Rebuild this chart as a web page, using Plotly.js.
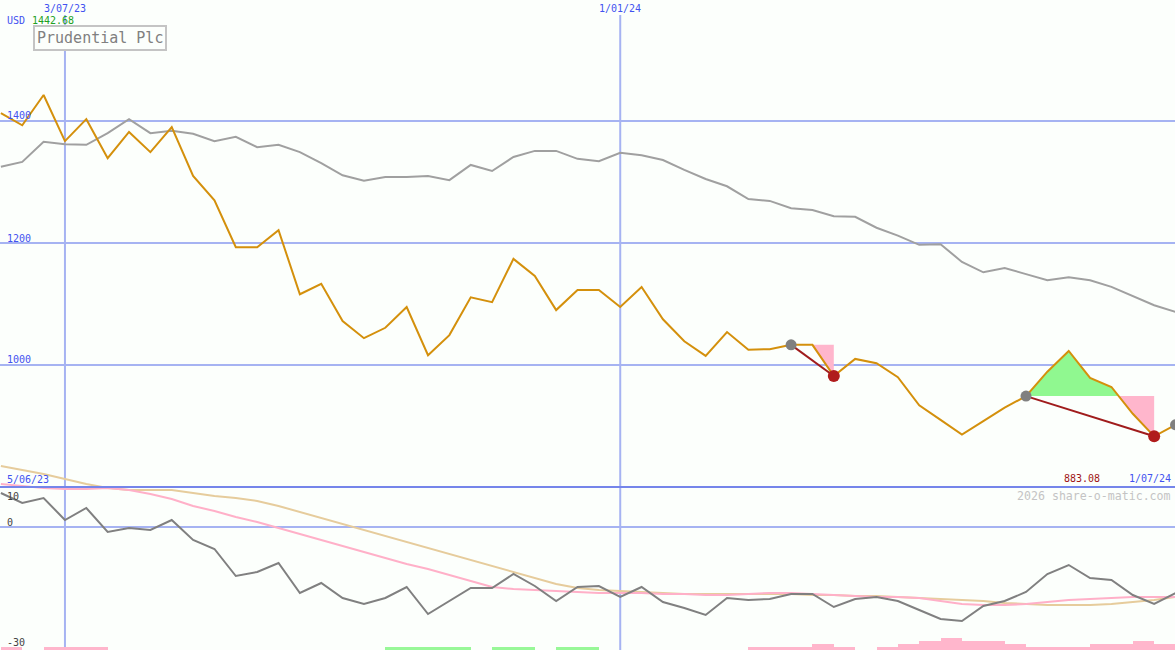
<!DOCTYPE html>
<html>
<head>
<meta charset="utf-8">
<script src="https://cdn.plot.ly/plotly-3.0.1.min.js"></script>
<style>
html,body{margin:0;padding:0;background:#fcfffc;}
#chart{width:1175px;height:650px;}
</style>
</head>
<body>
<div id="chart"></div>
<script>
// ---- data (weekly) ----
const dates = ['2023-06-12','2023-06-19','2023-06-26','2023-07-03','2023-07-10','2023-07-17','2023-07-24','2023-07-31',
 '2023-08-07','2023-08-14','2023-08-21','2023-08-28','2023-09-04','2023-09-11','2023-09-18','2023-09-25',
 '2023-10-02','2023-10-09','2023-10-16','2023-10-23','2023-10-30','2023-11-06','2023-11-13','2023-11-20',
 '2023-11-27','2023-12-04','2023-12-11','2023-12-18','2023-12-25','2024-01-01','2024-01-08','2024-01-15',
 '2024-01-22','2024-01-29','2024-02-05','2024-02-12','2024-02-19','2024-02-26','2024-03-04','2024-03-11',
 '2024-03-18','2024-03-25','2024-04-01','2024-04-08','2024-04-15','2024-04-22','2024-04-29','2024-05-06',
 '2024-05-13','2024-05-20','2024-05-27','2024-06-03','2024-06-10','2024-06-17','2024-06-24','2024-07-01'];

const price = [1413,1393,1442.68,1367,1403,1339,1382,1349,1390,1310,1270,1193,1193,1221,1116,1133,
 1072,1044,1061,1095,1016,1049,1111,1103,1174,1146,1090,1123,1123,1095,1128,1075,
 1039,1015,1054,1025,1026,1033,1033,982,1010,1003,980,934,910,886,908,930,
 949,989,1023,979,964,920,883.08,902];

const relative = [1325,1333,1366,1362,1361,1380,1403,1380,1384,1379,1367,1374,1357,1361,1349,1331,
 1311,1302,1308,1308,1310,1303,1328,1318,1341,1351,1351,1338,1334,1348,1344,1336,
 1320,1305,1293,1272,1269,1257,1254,1244,1243,1225,1212,1197,1198,1169,1152,1159,
 1149,1139,1144,1139,1128,1113,1098,1087];

const momentum = [8.5,6,7.25,1.75,4.75,-1.25,-0.25,-0.75,1.75,-3.25,-5.5,-12.25,-11.25,-9,-16.5,-14,
 -17.75,-19.25,-17.75,-15,-21.75,-18.5,-15.25,-15.25,-11.75,-14.75,-18.5,-15,-14.75,-17.5,-15,-18.75,
 -20.25,-22,-17.75,-18.25,-18,-16.75,-16.75,-20,-18,-17.5,-18.5,-20.75,-23,-23.5,-19.75,-18.5,
 -16.25,-11.75,-9.5,-12.75,-13.25,-17,-19.25,-16.5];

const avgFast = [10.75,10.25,9.75,9.5,9.5,9.75,9.25,8.25,7,5.25,4,2.5,1.25,-0.25,-1.75,-3.25,
 -4.75,-6.25,-7.75,-9.25,-10.5,-12,-13.5,-15,-15.5,-15.75,-16,-16.25,-16.5,-16.5,-16.5,-16.75,
 -16.75,-17,-17,-16.75,-16.5,-16.5,-16.75,-17,-17.25,-17.5,-17.5,-17.75,-18.5,-19.25,-19.5,-19.5,
 -19.25,-18.75,-18.25,-18,-17.75,-17.5,-17.5,-17.5];

const avgSlow = [15.25,14.25,13.25,12,10.75,9.75,9.25,9.25,9.25,8.5,7.75,7.25,6.5,5.25,3.75,2.25,
 0.75,-0.75,-2.25,-3.75,-5.25,-6.75,-8.25,-9.75,-11.25,-12.75,-14.25,-15.25,-15.75,-16,-16.25,-16.5,
 -16.75,-16.75,-16.75,-16.75,-16.75,-16.75,-17,-17,-17.25,-17.25,-17.5,-17.75,-18,-18.25,-18.5,-19,
 -19.25,-19.5,-19.5,-19.5,-19.25,-18.75,-18.25,-17.5];

// weekly strength bars (one per week interval)
const pinkBars  = [1,0,1,1,1,0,0,0,0,0,0,0,0,0,0,0,0,0,0,0,0,0,0,0,0,0,0,0,0,0,0,0,0,0,0,
 1,1,1,2,1,0,1,2,3,4,3,3,2,1,1,1,2,2,3,2];
const greenBars = [0,0,0,0,0,0,0,0,0,0,0,0,0,0,0,0,0,0,1,1,1,1,0,1,1,0,1,1,0,0,0,0,0,0,0,
 0,0,0,0,0,0,0,0,0,0,0,0,0,0,0,0,0,0,0,0];

// signals (indices into weekly data)
const signalFrom = [37, 48];
const signalTo   = [39, 54];
const openSignal = [55];

// ---- helpers ----
const H = 650, W = 1175;
const px = v => v / W;
const py = v => 1 - v / H;
const ms = d => Date.parse(d + 'T00:00:00Z');
const WEEK = 7 * 24 * 3600 * 1000;

function clippedFill(i0, i1, base, above) {
  const xs = [], ys = [];
  for (let i = i0; i <= i1; i++) {
    const v = price[i];
    if (i > i0) {
      const p = price[i - 1];
      if ((p - base) * (v - base) < 0) {
        const t = (base - p) / (v - p);
        xs.push(ms(dates[i - 1]) + t * (ms(dates[i]) - ms(dates[i - 1])));
        ys.push(base);
      }
    }
    xs.push(ms(dates[i]));
    ys.push(above ? Math.max(v, base) : Math.min(v, base));
  }
  xs.push(ms(dates[i1])); ys.push(base);
  xs.push(ms(dates[i0])); ys.push(base);
  return {xs, ys};
}

const traces = [];
const barX = dates.slice(0, 55);

traces.push({type:'bar', x:barX, y:pinkBars, yaxis:'y3', offset:0, width:WEEK,
  marker:{color:'#ffb6cc', line:{width:0}}, hoverinfo:'skip'});
traces.push({type:'bar', x:barX, y:greenBars, yaxis:'y3', offset:0, width:WEEK,
  marker:{color:'#98f898', line:{width:0}}, hoverinfo:'skip'});

traces.push({type:'scatter', mode:'lines', x:dates, y:avgSlow, yaxis:'y2',
  line:{color:'#e6cc9c', width:2}, hoverinfo:'skip'});
traces.push({type:'scatter', mode:'lines', x:dates, y:avgFast, yaxis:'y2',
  line:{color:'#ffb0c8', width:2}, hoverinfo:'skip'});
traces.push({type:'scatter', mode:'lines', x:dates, y:momentum, yaxis:'y2',
  line:{color:'#808080', width:2}, hoverinfo:'skip'});

traces.push({type:'scatter', mode:'lines', x:dates, y:relative, yaxis:'y',
  line:{color:'#a0a0a0', width:2}, hoverinfo:'skip'});

signalFrom.forEach((f, k) => {
  const t = signalTo[k];
  const base = price[f];
  const g = clippedFill(f, t, base, true);
  const p = clippedFill(f, t, base, false);
  traces.push({type:'scatter', mode:'lines', x:g.xs, y:g.ys, fill:'toself', yaxis:'y',
    fillcolor:'#90f890', line:{width:0, color:'rgba(0,0,0,0)'}, hoverinfo:'skip'});
  traces.push({type:'scatter', mode:'lines', x:p.xs, y:p.ys, fill:'toself', yaxis:'y',
    fillcolor:'#ffb6cc', line:{width:0, color:'rgba(0,0,0,0)'}, hoverinfo:'skip'});
});

traces.push({type:'scatter', mode:'lines', x:dates, y:price, yaxis:'y',
  line:{color:'#d4900c', width:2}, hoverinfo:'skip'});

signalFrom.forEach((f, k) => {
  const t = signalTo[k];
  traces.push({type:'scatter', mode:'lines', x:[dates[f], dates[t]], y:[price[f], price[t]], yaxis:'y',
    line:{color:'#a01c1c', width:2}, hoverinfo:'skip'});
});

const greyIdx = signalFrom.concat(openSignal);
traces.push({type:'scatter', mode:'markers', x:greyIdx.map(i => dates[i]), y:greyIdx.map(i => price[i]), yaxis:'y',
  marker:{color:'#808080', size:11}, hoverinfo:'skip'});
traces.push({type:'scatter', mode:'markers', x:signalTo.map(i => dates[i]), y:signalTo.map(i => price[i]), yaxis:'y',
  marker:{color:'#b01c1c', size:12}, hoverinfo:'skip'});

// ---- layout ----
const gridColor = '#a6b3f2';
const shapes = [];
[1400, 1200, 1000].forEach(v => shapes.push({type:'line', xref:'paper', yref:'y', x0:0, x1:1, y0:v, y1:v,
  line:{color:gridColor, width:2}, layer:'below'}));
shapes.push({type:'line', xref:'paper', yref:'y2', x0:0, x1:1, y0:0, y1:0, line:{color:gridColor, width:2}, layer:'below'});
['2023-07-03', '2024-01-01'].forEach(d => shapes.push({type:'line', xref:'x', yref:'paper', x0:d, x1:d,
  y0:0, y1:py(15), line:{color:gridColor, width:2}, layer:'below'}));
shapes.push({type:'line', xref:'paper', yref:'paper', x0:0, x1:1, y0:py(487), y1:py(487),
  line:{color:'#7585ea', width:2}, layer:'above'});

const mono = 'DejaVu Sans Mono, Liberation Mono, monospace';
const blue = '#4252f0';
function lab(text, x, y, color, size, xanchor) {
  return {text, xref:'paper', yref:'paper', x:px(x), y:py(y), xanchor:xanchor || 'left', yanchor:'middle',
    showarrow:false, font:{family:mono, size:size || 10, color}};
}
const maxPrice = Math.max(...price);
const lastSell = price[signalTo[signalTo.length - 1]];
const annotations = [
  {text:'3/07/23', xref:'x', yref:'paper', x:'2023-07-03', y:py(8), xanchor:'center', yanchor:'middle',
   showarrow:false, font:{family:mono, size:10, color:blue}},
  {text:'1/01/24', xref:'x', yref:'paper', x:'2024-01-01', y:py(8), xanchor:'center', yanchor:'middle',
   showarrow:false, font:{family:mono, size:10, color:blue}},
  lab('USD', 5, 20, blue),
  lab(maxPrice.toFixed(2), 30, 20, '#22a022'),
  {text:'Prudential Plc', xref:'paper', yref:'paper', x:px(33), y:py(25), xanchor:'left', yanchor:'top',
   showarrow:false, font:{family:mono, size:15, color:'#808080'}, bgcolor:'#fcfffc',
   bordercolor:'#c4c4c4', borderwidth:2, borderpad:2},
  lab('1400', 5, 115.5, blue),
  lab('1200', 5, 238, blue),
  lab('1000', 5, 359, blue),
  lab('5/06/23', 5, 479, blue),
  lab(lastSell.toFixed(2), 1102, 478.5, '#a01414', 10, 'right'),
  lab('1/07/24', 1173, 478.5, blue, 10, 'right'),
  lab('2026 share-o-matic.com', 1173, 496, '#c4c4c4', 11.6, 'right'),
  lab('10', 5, 496, '#444444'),
  lab('0', 5, 522, '#444444'),
  lab('-30', 5, 642, '#444444')
];

// One full-height plot area; the price scale and the indicator scale are overlaid axes.
// Price: 1400 at pixel 121, 0.61 px per unit. Indicator: 0 at pixel 527, 4 px per unit.
const layout = {
  width:W, height:H, margin:{l:0, r:0, t:0, b:0, pad:0},
  paper_bgcolor:'#fcfffc', plot_bgcolor:'#fcfffc', showlegend:false,
  bargap:0, barmode:'overlay',
  xaxis:{type:'date', range:['2023-06-11 17:00', '2024-06-30 20:00'], visible:false, fixedrange:true},
  yaxis:{domain:[0, 1], range:[1598.36 - 650 / 0.61, 1598.36], visible:false, fixedrange:true},
  yaxis2:{overlaying:'y', range:[-30.75, 131.75], visible:false, fixedrange:true},
  yaxis3:{overlaying:'y', range:[0, 650/3], visible:false, fixedrange:true},
  shapes, annotations, hovermode:false
};

Plotly.newPlot('chart', traces, layout, {displayModeBar:false, staticPlot:true});
</script>
</body>
</html>
